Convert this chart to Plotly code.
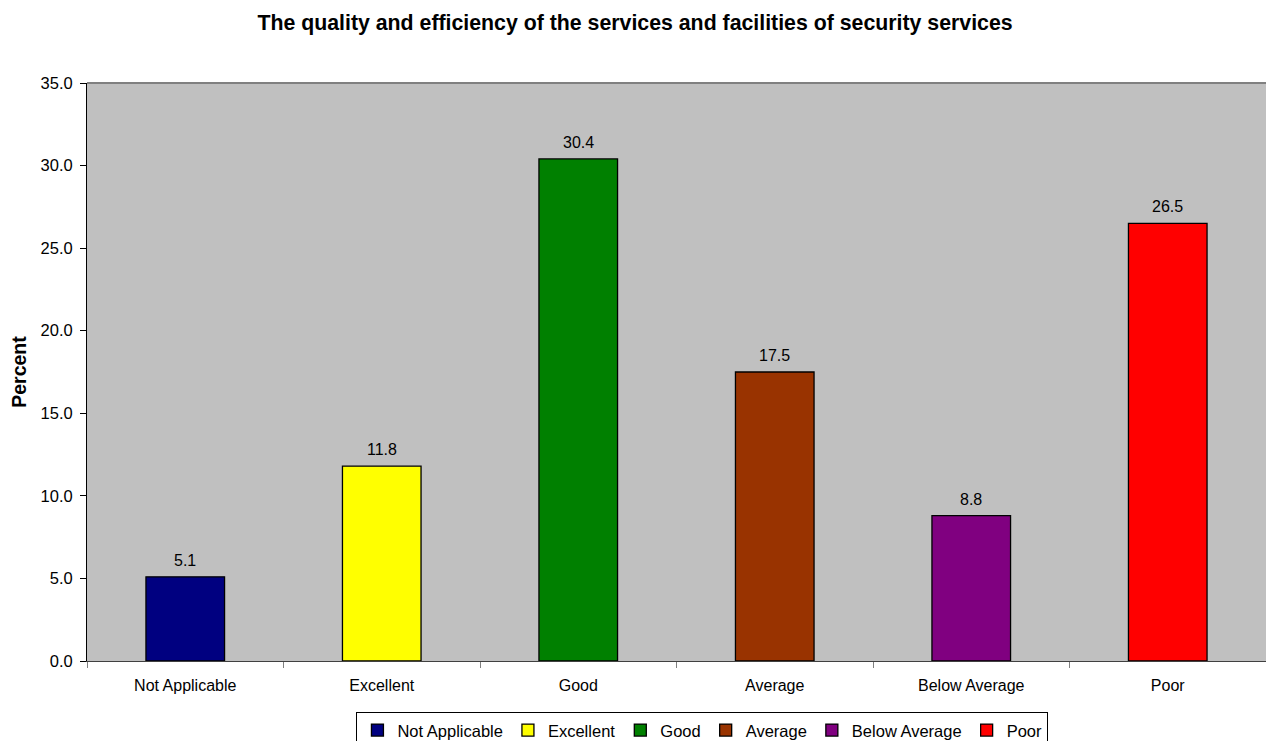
import plotly.graph_objects as go

categories = ["Not Applicable", "Excellent", "Good", "Average", "Below Average", "Poor"]
percent = [5.1, 11.8, 30.4, 17.5, 8.8, 26.5]
bar_colors = ["#000080", "#FFFF00", "#008000", "#993300", "#800080", "#FF0000"]
y_ticks = [0, 5, 10, 15, 20, 25, 30, 35]

FONT = "Liberation Sans, Arial, sans-serif"

fig = go.Figure()
for cat, val, col in zip(categories, percent, bar_colors):
    fig.add_trace(go.Bar(
        x=[cat], y=[val], name=cat,
        marker=dict(color=col, line=dict(color="#000000", width=1.3)),
        width=0.4,
    ))
    # value label sitting just above each bar
    fig.add_annotation(
        x=cat, y=val, text=f"{val:.1f}", showarrow=False,
        xanchor="center", yanchor="bottom", yshift=6,
        font=dict(family=FONT, size=16, color="#000000"),
    )

fig.update_layout(
    width=1266, height=741,
    margin=dict(l=87, r=0, t=83, b=80, autoexpand=False),
    paper_bgcolor="#FFFFFF",
    plot_bgcolor="#C0C0C0",
    barmode="overlay",
    font=dict(family=FONT, size=16, color="#000000"),
    title=dict(
        text="<b>The quality and efficiency of the services and facilities of security services</b>",
        x=0.5016, xref="container", xanchor="center",
        y=1 - 23 / 741, yref="container", yanchor="middle",
        font=dict(family=FONT, size=21.3, color="#000000"),
    ),
    showlegend=True,
    legend=dict(
        orientation="h", x=0.522, xanchor="center", y=-0.088, yanchor="top",
        bordercolor="#000000", borderwidth=1, bgcolor="#FFFFFF",
        font=dict(family=FONT, size=16.5, color="#000000"),
        itemwidth=30, tracegroupgap=0,
    ),
    xaxis=dict(
        type="category", tickson="boundaries", ticks="outside", ticklen=6,
        tickcolor="#808080", showline=True, linecolor="#404040", linewidth=1,
        showgrid=False, tickfont=dict(family=FONT, size=16),
        ticklabelstandoff=10,
    ),
    yaxis=dict(
        range=[0, 35], tickvals=y_ticks, tickformat=".1f",
        ticks="outside", ticklen=6, tickcolor="#000000",
        showline=True, linecolor="#000000", linewidth=1,
        showgrid=False, zeroline=False,
        tickfont=dict(family=FONT, size=16.5),
        ticklabelstandoff=4,
        title=dict(text="<b>Percent</b>", font=dict(family=FONT, size=19.5), standoff=8),
    ),
)

# grey frame line along the top of the plotting area
fig.add_shape(type="line", xref="paper", yref="paper", x0=0, x1=1, y0=1, y1=1,
              line=dict(color="#808080", width=2))

fig.write_html("out.html")
